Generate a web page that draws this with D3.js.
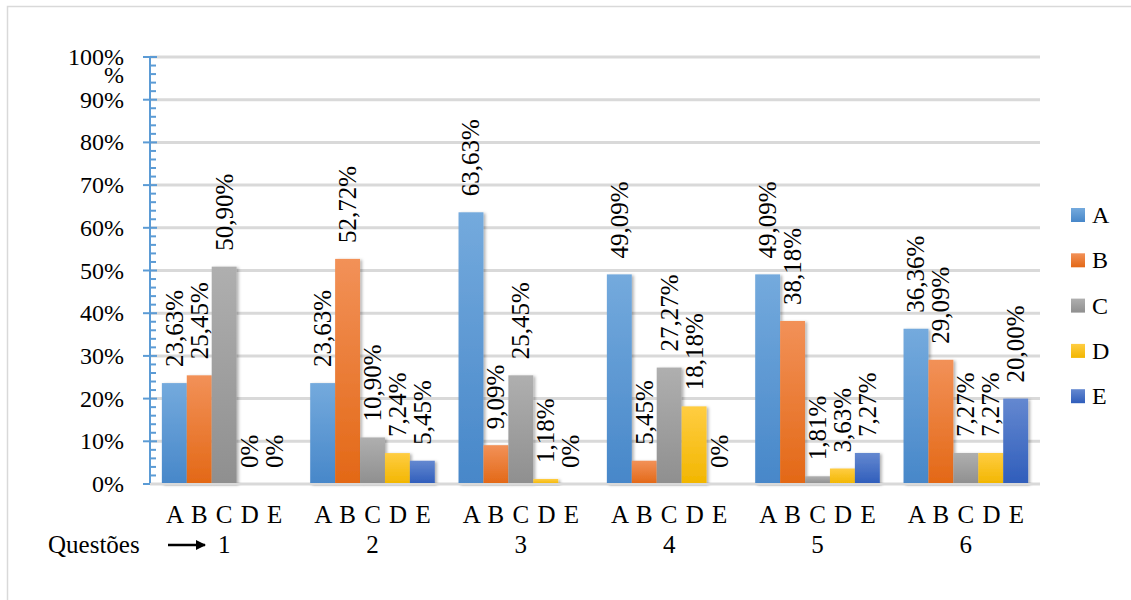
<!DOCTYPE html>
<html>
<head>
<meta charset="utf-8">
<script src="https://cdn.jsdelivr.net/npm/d3@7"></script>
<style>
  body { margin: 0; background: #fff; }
</style>
</head>
<body>
<div id="chart"></div>
<script>

// Data
var questions = ["1", "2", "3", "4", "5", "6"];
var options = ["A", "B", "C", "D", "E"];
var valuesA = [23.63, 23.63, 63.63, 49.09, 49.09, 36.36];
var valuesB = [25.45, 52.72, 9.09, 5.45, 38.18, 29.09];
var valuesC = [50.90, 10.90, 25.45, 27.27, 1.81, 7.27];
var valuesD = [0, 7.24, 1.18, 18.18, 3.63, 7.27];
var valuesE = [0, 5.45, 0, 0, 7.27, 20.00];
var yTicks = [0, 10, 20, 30, 40, 50, 60, 70, 80, 90, 100];

var series = [valuesA, valuesB, valuesC, valuesD, valuesE];

// gradient top / bottom for each option
var colors = {
    A: ["#74aadd", "#4787c9"],
    B: ["#f29158", "#e36816"],
    C: ["#afafaf", "#8f8f8f"],
    D: ["#ffcd42", "#f2b600"],
    E: ["#6488d0", "#2f5dbb"]
};

var width = 1131,
    height = 600;

var svg = d3.select("#chart")
    .append("svg")
        .attr("width", width)
        .attr("height", height)
        .attr("font-family", "'Liberation Serif', 'DejaVu Serif', 'Times New Roman', serif");

// outer frame
svg.append("rect")
    .attr("x", 7.5)
    .attr("y", 6.5)
    .attr("width", width)
    .attr("height", height)
    .attr("fill", "none")
    .attr("stroke", "#d9d9d9")
    .attr("stroke-width", 1.5);

var plotLeft = 150, plotRight = 1040, plotTop = 57, plotBottom = 484;

var x0 = d3.scaleBand()
    .domain(questions)
    .range([plotLeft, plotRight])
    .paddingInner(0.16)
    .paddingOuter(0.08);

var x1 = d3.scaleBand()
    .domain(options)
    .range([0, x0.bandwidth()]);

var y = d3.scaleLinear()
    .domain([0, 100])
    .range([plotBottom, plotTop]);

///////////////////////////////////////////////////////////////////////////
/////////////////////////////// Defs //////////////////////////////////////
///////////////////////////////////////////////////////////////////////////

var defs = svg.append("defs");

options.forEach(function(o) {
    var g = defs.append("linearGradient")
        .attr("id", "grad-" + o)
        .attr("x1", 0).attr("y1", 0)
        .attr("x2", 0).attr("y2", 1);
    g.append("stop").attr("offset", "0%").attr("stop-color", colors[o][0]);
    g.append("stop").attr("offset", "100%").attr("stop-color", colors[o][1]);
});

defs.append("filter")
    .attr("id", "shadow")
    .attr("x", "-20%").attr("y", "-20%")
    .attr("width", "150%").attr("height", "150%")
    .append("feDropShadow")
        .attr("dx", 2)
        .attr("dy", 1)
        .attr("stdDeviation", 1.5)
        .attr("flood-color", "#000")
        .attr("flood-opacity", 0.3);

///////////////////////////////////////////////////////////////////////////
//////////////////////////////// Grid /////////////////////////////////////
///////////////////////////////////////////////////////////////////////////

svg.append("g")
    .selectAll("line")
    .data(yTicks)
    .enter()
    .append("line")
        .attr("x1", plotLeft)
        .attr("x2", plotRight)
        .attr("y1", d => y(d))
        .attr("y2", d => y(d))
        .attr("stroke", "#d9d9d9")
        .attr("stroke-width", 3);

// y axis with minor ticks
var yAxis = svg.append("g");

yAxis.append("line")
    .attr("x1", plotLeft).attr("x2", plotLeft)
    .attr("y1", y(100)).attr("y2", y(0))
    .attr("stroke", "#5b9bd5")
    .attr("stroke-width", 2);

yAxis.selectAll(".minor")
    .data(d3.range(0, 100, 2).filter(d => d % 10 !== 0))
    .enter()
    .append("line")
        .attr("x1", plotLeft).attr("x2", plotLeft + 6)
        .attr("y1", d => y(d)).attr("y2", d => y(d))
        .attr("stroke", "#5b9bd5")
        .attr("stroke-width", 2);

yAxis.selectAll(".major")
    .data(yTicks)
    .enter()
    .append("line")
        .attr("x1", plotLeft - 7).attr("x2", plotLeft + 7)
        .attr("y1", d => y(d)).attr("y2", d => y(d))
        .attr("stroke", "#5b9bd5")
        .attr("stroke-width", 2);

yAxis.selectAll("text")
    .data(yTicks)
    .enter()
    .append("text")
        .attr("x", 124)
        .attr("y", d => y(d) + 8)
        .attr("text-anchor", "end")
        .style("font-size", "24px")
        .text(d => d + "%");

// wrapped "%" under 100%
yAxis.append("text")
    .attr("x", 124)
    .attr("y", y(100) + 26)
    .attr("text-anchor", "end")
    .style("font-size", "24px")
    .text("%");

///////////////////////////////////////////////////////////////////////////
//////////////////////////////// Bars /////////////////////////////////////
///////////////////////////////////////////////////////////////////////////

var groups = svg.append("g")
    .selectAll("g")
    .data(questions)
    .enter()
    .append("g")
        .attr("transform", d => "translate(" + x0(d) + ",0)");

var cells = groups.selectAll("g")
    .data((q, i) => options.map((o, j) => ({ opt: o, value: series[j][i] })))
    .enter()
    .append("g");

cells.filter(d => d.value > 0)
    .append("rect")
        .attr("x", d => x1(d.opt))
        .attr("width", x1.bandwidth())
        .attr("y", d => y(d.value))
        .attr("height", d => y(0) - y(d.value))
        .attr("fill", d => "url(#grad-" + d.opt + ")")
        .style("filter", "url(#shadow)");

cells.append("text")
    .attr("transform", d => "translate(" + (x1(d.opt) + x1.bandwidth() / 2) + "," + (y(d.value) - 16) + ") rotate(-90)")
    .attr("dominant-baseline", "central")
    .style("font-size", "25px")
    .text(d => d.value === 0 ? "0%" : d.value.toFixed(2).replace(".", ",") + "%");

// bottom axis line
svg.append("line")
    .attr("x1", plotLeft).attr("x2", plotRight)
    .attr("y1", y(0)).attr("y2", y(0))
    .attr("stroke", "#d9d9d9")
    .attr("stroke-width", 2);

///////////////////////////////////////////////////////////////////////////
////////////////////////////// X labels ///////////////////////////////////
///////////////////////////////////////////////////////////////////////////

groups.append("text")
    .attr("x", x0.bandwidth() / 2)
    .attr("y", 523)
    .attr("text-anchor", "middle")
    .attr("word-spacing", "2px")
    .style("font-size", "25px")
    .text(options.join(" "));

groups.append("text")
    .attr("x", x0.bandwidth() / 2)
    .attr("y", 553)
    .attr("text-anchor", "middle")
    .style("font-size", "25px")
    .text(d => d);

svg.append("text")
    .attr("x", 48)
    .attr("y", 553)
    .style("font-size", "25px")
    .text("Questões");

// arrow
defs.append("marker")
    .attr("id", "arrowhead")
    .attr("viewBox", "0 0 10 10")
    .attr("refX", 9).attr("refY", 5)
    .attr("markerWidth", 4).attr("markerHeight", 4)
    .attr("orient", "auto")
    .append("path")
        .attr("d", "M0,0 L10,5 L0,10 z")
        .attr("fill", "#000");

svg.append("line")
    .attr("x1", 168).attr("x2", 205)
    .attr("y1", 545).attr("y2", 545)
    .attr("stroke", "#000")
    .attr("stroke-width", 2.5)
    .attr("marker-end", "url(#arrowhead)");

///////////////////////////////////////////////////////////////////////////
/////////////////////////////// Legend ////////////////////////////////////
///////////////////////////////////////////////////////////////////////////

var legend = svg.append("g")
    .selectAll("g")
    .data(options)
    .enter()
    .append("g")
        .attr("transform", (d, i) => "translate(1071," + (215 + i * 45.3) + ")");

legend.append("rect")
    .attr("x", 0)
    .attr("y", -7)
    .attr("width", 14)
    .attr("height", 14)
    .attr("fill", d => "url(#grad-" + d + ")");

legend.append("text")
    .attr("x", 21)
    .attr("y", 8)
    .style("font-size", "24px")
    .text(d => d);

</script>
</body>
</html>
